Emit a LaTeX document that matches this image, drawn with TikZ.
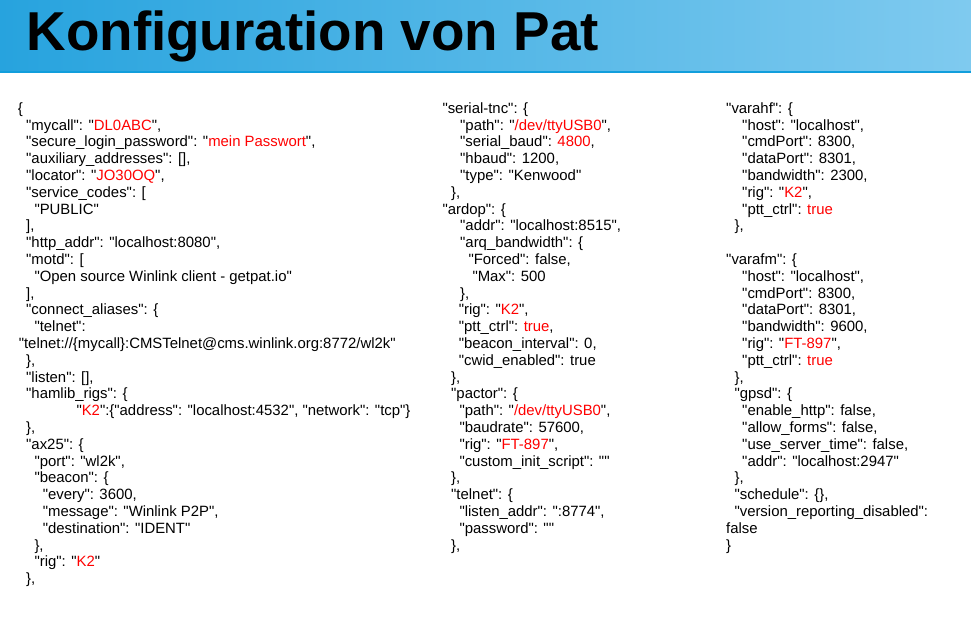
\documentclass[tikz,border=0pt]{standalone}
\usepackage{fontspec}
\setmainfont{Liberation Sans}[Ligatures=TeXOff]
\definecolor{barleft}{HTML}{27A3DE}
\definecolor{barright}{HTML}{7FCAEF}
\definecolor{barline}{HTML}{119EDC}
\definecolor{jred}{HTML}{FF0000}
\newcommand\rd[1]{\textcolor{jred}{#1}}
\newcommand\jline[4]{\node[jl] (#1) at (#2,{113.2+16.8*#3}) {#4};}
\begin{document}
\begin{tikzpicture}[x=1pt,y=-1pt,
  jl/.style={anchor=base west,inner sep=0pt,font=\fontsize{14.9}{16.8}\selectfont},
  titlestyle/.style={anchor=base west,inner sep=0pt,font=\fontsize{54.8}{60}\selectfont\bfseries}]
\useasboundingbox (0,0) rectangle (971,632);
\fill[white] (0,0) rectangle (971,632);
\shade[left color=barleft,right color=barright] (0,0) rectangle (971,70.5);
\fill[barline] (0,70.5) rectangle (971,73);
\node[titlestyle] (title) at (26.3,50) {Konfiguration von Pat};
% column 1
\jline{a0}{17.7}{0}{\{}
\jline{a1}{26}{1}{"mycall": "\rd{DL0ABC}",}
\jline{a2}{26}{2}{"secure\_login\_password": "\rd{mein Passwort}",}
\jline{a3}{26}{3}{"auxiliary\_addresses": [],}
\jline{a4}{26}{4}{"locator": "\rd{JO30OQ}",}
\jline{a5}{26}{5}{"service\_codes": [}
\jline{a6}{34.3}{6}{"PUBLIC"}
\jline{a7}{26}{7}{],}
\jline{a8}{26}{8}{"http\_addr": "localhost:8080",}
\jline{a9}{26}{9}{"motd": [}
\jline{a10}{34.3}{10}{"Open source Winlink client - getpat.io"}
\jline{a11}{26}{11}{],}
\jline{a12}{26}{12}{"connect\_aliases": \{}
\jline{a13}{34.3}{13}{"telnet":}
\jline{a14}{18.6}{14}{"telnet://\{mycall\}:CMSTelnet@cms.winlink.org:8772/wl2k"}
\jline{a15}{26}{15}{\},}
\jline{a16}{26}{16}{"listen": [],}
\jline{a17}{26}{17}{"hamlib\_rigs": \{}
\jline{a18}{76.3}{18}{"\rd{K2}":\{"address": "localhost:4532", "network": "tcp"\}}
\jline{a19}{26}{19}{\},}
\jline{a20}{26}{20}{"ax25": \{}
\jline{a21}{34.3}{21}{"port": "wl2k",}
\jline{a22}{34.3}{22}{"beacon": \{}
\jline{a23}{42.6}{23}{"every": 3600,}
\jline{a24}{42.6}{24}{"message": "Winlink P2P",}
\jline{a25}{42.6}{25}{"destination": "IDENT"}
\jline{a26}{34.3}{26}{\},}
\jline{a27}{34.3}{27}{"rig": "\rd{K2}"}
\jline{a28}{26}{28}{\},}
% column 2
\jline{b0}{442.3}{0}{"serial-tnc": \{}
\jline{b1}{460}{1}{"path": "\rd{/dev/ttyUSB0}",}
\jline{b2}{460}{2}{"serial\_baud": \rd{4800},}
\jline{b3}{460}{3}{"hbaud": 1200,}
\jline{b4}{460}{4}{"type": "Kenwood"}
\jline{b5}{451}{5}{\},}
\jline{b6}{442.3}{6}{"ardop": \{}
\jline{b7}{460}{7}{"addr": "localhost:8515",}
\jline{b8}{460}{8}{"arq\_bandwidth": \{}
\jline{b9}{468.3}{9}{"Forced": false,}
\jline{b10}{472.3}{10}{"Max": 500}
\jline{b11}{460}{11}{\},}
\jline{b12}{458.6}{12}{"rig": "\rd{K2}",}
\jline{b13}{458.6}{13}{"ptt\_ctrl": \rd{true},}
\jline{b14}{458.6}{14}{"beacon\_interval": 0,}
\jline{b15}{458.6}{15}{"cwid\_enabled": true}
\jline{b16}{451}{16}{\},}
\jline{b17}{451}{17}{"pactor": \{}
\jline{b18}{459.3}{18}{"path": "\rd{/dev/ttyUSB0}",}
\jline{b19}{459.3}{19}{"baudrate": 57600,}
\jline{b20}{459.3}{20}{"rig": "\rd{FT-897}",}
\jline{b21}{459.3}{21}{"custom\_init\_script": ""}
\jline{b22}{451}{22}{\},}
\jline{b23}{451}{23}{"telnet": \{}
\jline{b24}{459.3}{24}{"listen\_addr": ":8774",}
\jline{b25}{459.3}{25}{"password": ""}
\jline{b26}{451}{26}{\},}
% column 3
\jline{c0}{726}{0}{"varahf": \{}
\jline{c1}{742}{1}{"host": "localhost",}
\jline{c2}{742}{2}{"cmdPort": 8300,}
\jline{c3}{742}{3}{"dataPort": 8301,}
\jline{c4}{742}{4}{"bandwidth": 2300,}
\jline{c5}{742}{5}{"rig": "\rd{K2}",}
\jline{c6}{742}{6}{"ptt\_ctrl": \rd{true}}
\jline{c7}{734.5}{7}{\},}
\jline{c9}{726}{9}{"varafm": \{}
\jline{c10}{742}{10}{"host": "localhost",}
\jline{c11}{742}{11}{"cmdPort": 8300,}
\jline{c12}{742}{12}{"dataPort": 8301,}
\jline{c13}{742}{13}{"bandwidth": 9600,}
\jline{c14}{742}{14}{"rig": "\rd{FT-897}",}
\jline{c15}{742}{15}{"ptt\_ctrl": \rd{true}}
\jline{c16}{734.5}{16}{\},}
\jline{c17}{734.3}{17}{"gpsd": \{}
\jline{c18}{742}{18}{"enable\_http": false,}
\jline{c19}{742}{19}{"allow\_forms": false,}
\jline{c20}{742}{20}{"use\_server\_time": false,}
\jline{c21}{742}{21}{"addr": "localhost:2947"}
\jline{c22}{734.5}{22}{\},}
\jline{c23}{734.3}{23}{"schedule": \{\},}
\jline{c24}{734.3}{24}{"version\_reporting\_disabled":}
\jline{c25}{726}{25}{false}
\jline{c26}{726}{26}{\}}
\end{tikzpicture}
\end{document}
